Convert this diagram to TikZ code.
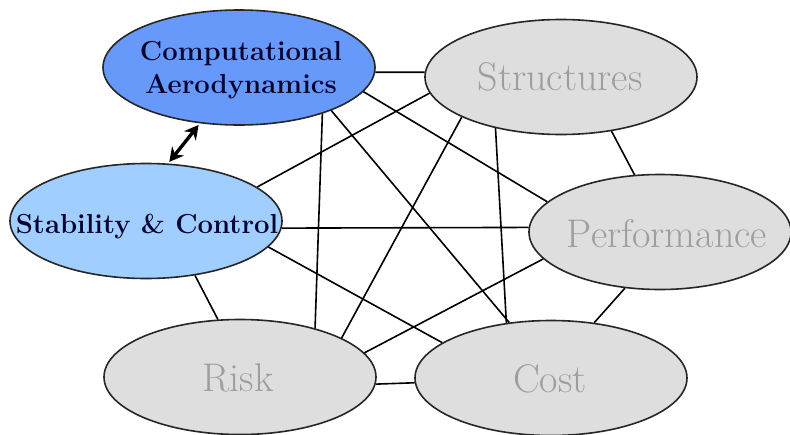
\documentclass[tikz,border=0pt]{standalone}
\usetikzlibrary{shapes.geometric,arrows.meta}
\definecolor{cablue}{RGB}{102,153,250}
\definecolor{scblue}{RGB}{160,206,255}
\definecolor{grayfill}{RGB}{222,222,222}
\definecolor{graytext}{RGB}{158,158,158}
\definecolor{navy}{RGB}{5,5,50}
\tikzset{
  oval/.style={ellipse, draw=black!85, line width=1.6pt, inner sep=0pt,
    minimum width=272pt, minimum height=115pt},
  blueoval/.style={oval, fill=cablue},
  lightoval/.style={oval, fill=scblue},
  grayoval/.style={oval, fill=grayfill},
  boldtxt/.style={font=\fontsize{27.5}{33}\selectfont\bfseries, text=navy, align=center, inner sep=0pt},
  graytxt/.style={font=\fontsize{40}{45}\selectfont, text=graytext, inner sep=0pt, anchor=base},
  link/.style={draw=black, line width=1.6pt},
  dbl/.style={draw=black, line width=3.4pt, {Stealth[length=14pt,width=15pt]}-{Stealth[length=14pt,width=15pt]}, shorten <=2pt, shorten >=2pt}
}
\begin{document}
\begin{tikzpicture}[x=1pt,y=-1pt]
\useasboundingbox[fill=white] (0,0) rectangle (790,434);
% ellipses
\node[blueoval]  (ca) at (239,67.5) {};
\node[lightoval] (sc) at (146,221) {};
\node[grayoval]  (st) at (561,77) {};
\node[grayoval, minimum width=262pt]  (pe) at (660,232) {};
\node[grayoval]  (ri) at (240,377) {};
\node[grayoval]  (co) at (551,378) {};
% texts
\node[boldtxt, anchor=center] (cat) at (241,70) {Computational\\Aerodynamics};
\node[boldtxt, anchor=base] (sct) at (147,233) {Stability \& Control};
\node[graytxt] (stt) at (560,90) {Structures};
\node[graytxt] (pet) at (667,247) {Performance};
\node[graytxt] (rit) at (238,391) {Risk};
\node[graytxt] (cot) at (550,392) {Cost};
% connectors
\path[link] (ca.-2) -- (st.178);
\path[link] (ca.-11.2) -- (pe.165.5);
\path[link] (st.187.1) -- (sc.17.6);
\path[link] (ca.-29.5) -- (ri.33.1);
\path[link] (ca.-25.8) -- (co.127.5);
\path[link] (st.218.1) -- (co.129.5);
\path[link] (st.202.1) -- (ri.21.9);
\path[link] (st.-47.1) -- (pe.114.4);
\path[link] (sc.-3.2) -- (pe.178.5);
\path[link] (sc.-12.3) -- (co.162.5);
\path[link] (sc.-48.2) -- (ri.111.8);
\path[link] (ri.11.5) -- (pe.193.2);
\path[link] (ri.-3) -- (co.182.5);
\path[link] (pe.238.3) -- (co.52.6);
% double arrow
\path[dbl] (ca.235.2) -- (sc.69.2);
\end{tikzpicture}
\end{document}
